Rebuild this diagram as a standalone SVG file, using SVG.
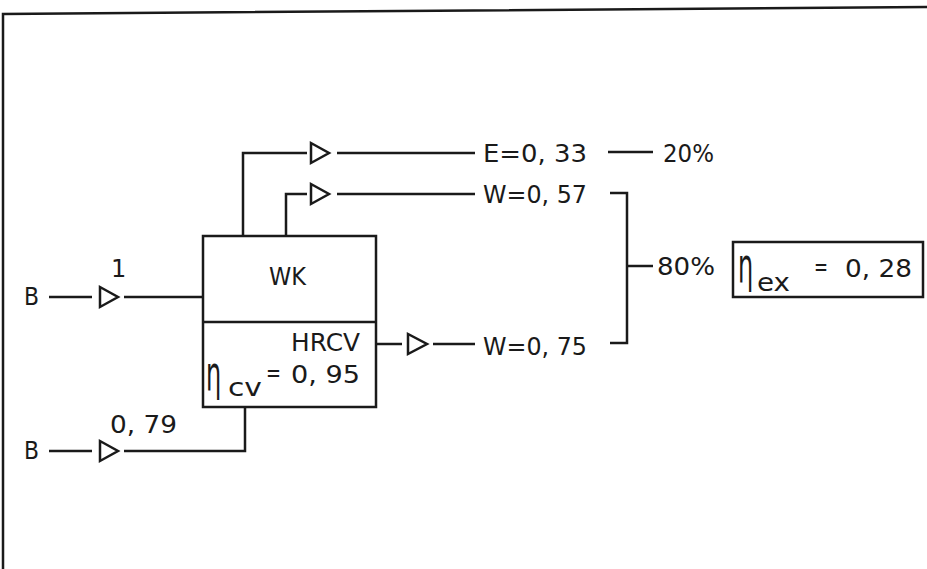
<svg xmlns="http://www.w3.org/2000/svg" width="927" height="569" viewBox="0 0 927 569">
<style>
.ln{stroke:#1a1a1a;stroke-width:2.5;fill:none}
.tri{stroke:#1a1a1a;stroke-width:2.5;fill:#fff;stroke-linejoin:miter}
.t{font-family:"DejaVu Sans",sans-serif;font-size:24px;fill:#1a1a1a}
.eta{font-family:"DejaVu Sans",sans-serif;font-size:48px;fill:#1a1a1a}
</style>
<rect width="927" height="569" fill="#fff"/>
<g id="frame">
<path class="ln" d="M3,569 V14 L927,7"/>
</g>
<g id="connectors">
<path class="ln" d="M49,297 H92"/>
<path class="ln" d="M124,297 H203"/>
<path class="ln" d="M49,451 H92"/>
<path class="ln" d="M124,451 H245 V407"/>
<path class="ln" d="M243,236 V153 H307"/>
<path class="ln" d="M337,153 H475"/>
<path class="ln" d="M608,152 H653"/>
<path class="ln" d="M286,236 V194 H307"/>
<path class="ln" d="M337,194 H475"/>
<path class="ln" d="M376,344 H402"/>
<path class="ln" d="M433,344 H475"/>
<path class="ln" d="M610,193 H627 V343 H610"/>
<path class="ln" d="M627,266 H653"/>
<polygon class="tri" points="100,287 100,307 118,297"/>
<polygon class="tri" points="100,441 100,461 118,451"/>
<polygon class="tri" points="311,143 311,163 329,153"/>
<polygon class="tri" points="311,184 311,204 329,194"/>
<polygon class="tri" points="408,334 408,354 427,344"/>
</g>
<g id="input1">
<text class="t" x="24" y="305" textLength="15" lengthAdjust="spacingAndGlyphs">B</text>
<text class="t" x="111" y="277">1</text>
</g>
<g id="input2">
<text class="t" x="24" y="459" textLength="15" lengthAdjust="spacingAndGlyphs">B</text>
<text class="t" x="110" y="433" textLength="67" lengthAdjust="spacingAndGlyphs">0, 79</text>
</g>
<g id="wk">
<rect class="ln" x="203" y="236" width="173" height="171"/>
<path class="ln" d="M203,322 H376"/>
<text class="t" x="269" y="285" textLength="37" lengthAdjust="spacingAndGlyphs">WK</text>
<text class="t" x="291" y="351" textLength="69" lengthAdjust="spacingAndGlyphs">HRCV</text>
<text class="eta" x="0" y="0" transform="translate(206,390) scale(0.5,1)">η</text>
<text class="t" x="228" y="396" textLength="34" lengthAdjust="spacingAndGlyphs">cv</text>
<text class="t" x="266" y="381" textLength="15" lengthAdjust="spacingAndGlyphs">=</text>
<text class="t" x="291" y="383" textLength="69" lengthAdjust="spacingAndGlyphs">0, 95</text>
</g>
<g id="out-e">
<text class="t" x="483" y="162" textLength="104" lengthAdjust="spacingAndGlyphs">E=0, 33</text>
<text class="t" x="663" y="162" textLength="51" lengthAdjust="spacingAndGlyphs">20%</text>
</g>
<g id="out-w1">
<text class="t" x="483" y="203" textLength="104" lengthAdjust="spacingAndGlyphs">W=0, 57</text>
</g>
<g id="out-w2">
<text class="t" x="483" y="355" textLength="104" lengthAdjust="spacingAndGlyphs">W=0, 75</text>
</g>
<g id="total">
<text class="t" x="657" y="275" textLength="58" lengthAdjust="spacingAndGlyphs">80%</text>
</g>
<g id="eta-ex">
<rect class="ln" x="733" y="242" width="190" height="55" stroke-width="2"/>
<text class="eta" x="0" y="0" transform="translate(738,282) scale(0.5,1)">η</text>
<text class="t" x="757" y="291" textLength="33" lengthAdjust="spacingAndGlyphs">ex</text>
<text class="t" x="814" y="275" textLength="14" lengthAdjust="spacingAndGlyphs">=</text>
<text class="t" x="845" y="277" textLength="67" lengthAdjust="spacingAndGlyphs">0, 28</text>
</g>
</svg>
